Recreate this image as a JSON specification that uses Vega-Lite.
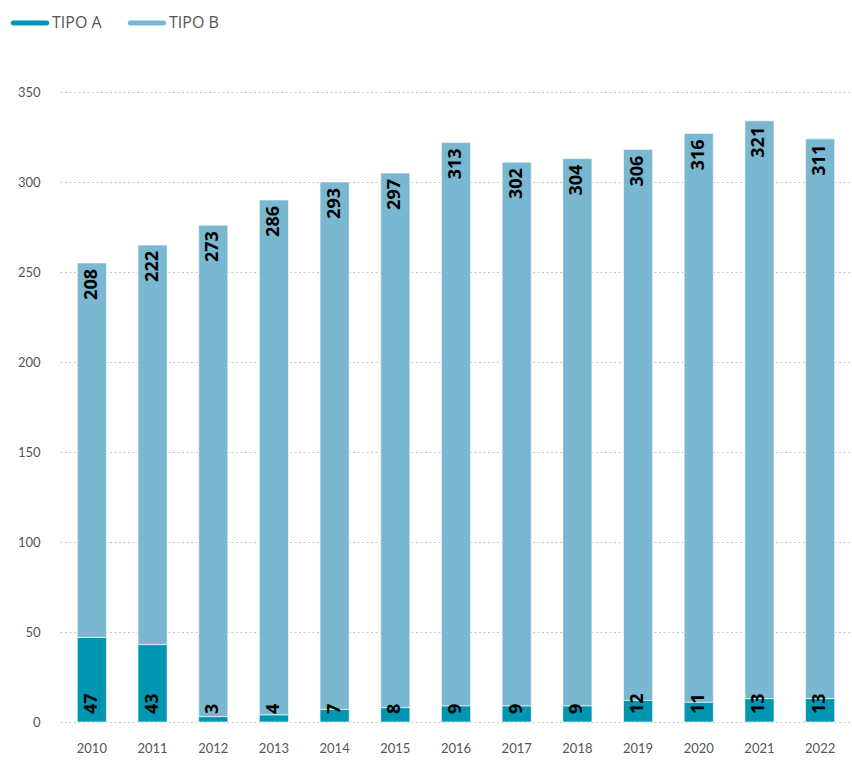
{
  "$schema": "https://vega.github.io/schema/vega-lite/v6.json",
  "width": 792,
  "height": 630,
  "autosize": {"type": "none"},
  "padding": {"left": 60, "top": 92, "right": 0, "bottom": 38},
  "background": "white",
  "config": {"view": {"stroke": null}, "font": "Lato"},
  "data": {"values": [
    {"year": "2010", "tipo": "TIPO A", "value": 47}, {"year": "2010", "tipo": "TIPO B", "value": 208},
    {"year": "2011", "tipo": "TIPO A", "value": 43}, {"year": "2011", "tipo": "TIPO B", "value": 222},
    {"year": "2012", "tipo": "TIPO A", "value": 3}, {"year": "2012", "tipo": "TIPO B", "value": 273},
    {"year": "2013", "tipo": "TIPO A", "value": 4}, {"year": "2013", "tipo": "TIPO B", "value": 286},
    {"year": "2014", "tipo": "TIPO A", "value": 7}, {"year": "2014", "tipo": "TIPO B", "value": 293},
    {"year": "2015", "tipo": "TIPO A", "value": 8}, {"year": "2015", "tipo": "TIPO B", "value": 297},
    {"year": "2016", "tipo": "TIPO A", "value": 9}, {"year": "2016", "tipo": "TIPO B", "value": 313},
    {"year": "2017", "tipo": "TIPO A", "value": 9}, {"year": "2017", "tipo": "TIPO B", "value": 302},
    {"year": "2018", "tipo": "TIPO A", "value": 9}, {"year": "2018", "tipo": "TIPO B", "value": 304},
    {"year": "2019", "tipo": "TIPO A", "value": 12}, {"year": "2019", "tipo": "TIPO B", "value": 306},
    {"year": "2020", "tipo": "TIPO A", "value": 11}, {"year": "2020", "tipo": "TIPO B", "value": 316},
    {"year": "2021", "tipo": "TIPO A", "value": 13}, {"year": "2021", "tipo": "TIPO B", "value": 321},
    {"year": "2022", "tipo": "TIPO A", "value": 13}, {"year": "2022", "tipo": "TIPO B", "value": 311}
  ]},
  "encoding": {
    "x": {
      "field": "year", "type": "ordinal",
      "scale": {"paddingInner": 0.52, "paddingOuter": 0.285},
      "axis": {"title": null, "labelAngle": 0, "ticks": false, "domain": false, "labelPadding": 20, "labelFontSize": 13, "labelColor": "#555555"}
    }
  },
  "layer": [
    {
      "mark": {"type": "bar", "stroke": "white", "strokeWidth": 0.6},
      "encoding": {
        "y": {
          "field": "value", "type": "quantitative", "stack": "zero",
          "scale": {"domain": [0, 350]},
          "axis": {"title": null, "values": [0, 50, 100, 150, 200, 250, 300, 350], "ticks": false, "domain": false, "labelPadding": 20, "labelFontSize": 13, "labelColor": "#555555", "gridDash": [2, 2.5], "gridColor": "#c8c8c8", "gridWidth": 1.2}
        },
        "color": {
          "field": "tipo", "type": "nominal",
          "scale": {"domain": ["TIPO A", "TIPO B"], "range": ["#0096b1", "#7ab8d1"]},
          "legend": {
            "title": null, "orient": "none", "legendX": -48, "legendY": -87, "direction": "horizontal",
            "symbolType": "M-0.93,-0.14 L0.93,-0.14 A0.14,0.14 0 0 1 0.93,0.14 L-0.93,0.14 A0.14,0.14 0 0 1 -0.93,-0.14 Z",
            "symbolSize": 1296, "symbolStrokeWidth": 0, "labelFont": "Open Sans", "labelFontSize": 16, "labelColor": "#555555", "labelOffset": 4, "columnPadding": 25
          }
        },
        "order": {"field": "tipo", "sort": "ascending"}
      }
    },
    {
      "transform": [
        {"joinaggregate": [{"op": "sum", "field": "value", "as": "total"}], "groupby": ["year"]},
        {"filter": "datum.tipo === 'TIPO B'"}
      ],
      "mark": {"type": "text", "angle": 270, "align": "right", "baseline": "middle", "dx": -6, "fontSize": 18, "fontWeight": "bold", "color": "black", "font": "Open Sans"},
      "encoding": {
        "y": {"field": "total", "type": "quantitative"},
        "text": {"field": "value", "type": "quantitative"}
      }
    },
    {
      "transform": [{"filter": "datum.tipo === 'TIPO A'"}],
      "mark": {"type": "text", "angle": 270, "align": "left", "baseline": "middle", "dx": 8, "fontSize": 18, "fontWeight": "bold", "color": "black", "font": "Open Sans"},
      "encoding": {
        "y": {"datum": 0, "type": "quantitative"},
        "text": {"field": "value", "type": "quantitative"}
      }
    }
  ]
}
